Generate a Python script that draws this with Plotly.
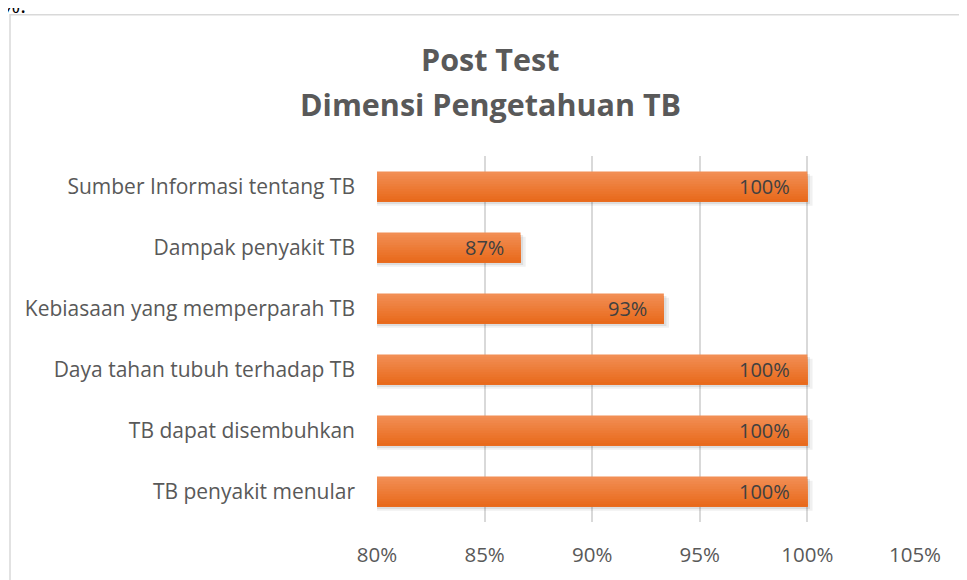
import plotly.graph_objects as go

categories = [
    "Sumber Informasi tentang TB",
    "Dampak penyakit TB",
    "Kebiasaan yang memperparah TB",
    "Daya tahan tubuh terhadap TB",
    "TB dapat disembuhkan",
    "TB penyakit menular",
]
values = [1.00, 0.8667, 0.9333, 1.00, 1.00, 1.00]
labels = ["100%", "87%", "93%", "100%", "100%", "100%"]
tick_vals = [0.80, 0.85, 0.90, 0.95, 1.00, 1.05]
tick_text = ["80%", "85%", "90%", "95%", "100%", "105%"]
title_lines = ["Post Test", "Dimensi Pengetahuan TB"]

# the page body adds an 8px margin, so the figure is 8px smaller than the window
W, H = 959, 572
L, R, T, B = 369, 52, 148, 51
pw, ph = W - L - R, H - T - B

BASE = 0.80
FONT = "Open Sans"
BAR_W = 0.49
TOP_RGB = (242, 142, 84)
BOT_RGB = (232, 106, 28)
N_SLICES = 12

fig = go.Figure()
# soft shadow under each bar
for k, a in enumerate([0.06, 0.08]):
    fig.add_trace(go.Bar(
        y=categories, x=[v - BASE + 0.0012 * (2 - k) for v in values], base=BASE,
        orientation="h", width=BAR_W, offset=-BAR_W / 2 + 0.03 * (2 - k) + 0.01,
        marker=dict(color="rgba(0,0,0,%.2f)" % a, line=dict(width=0)),
        hoverinfo="skip",
    ))
# bar body: overlapping layers, each reaching the bar bottom, for a vertical gradient
sw = BAR_W / N_SLICES
for i in range(N_SLICES):
    t = i / (N_SLICES - 1)
    rgb = tuple(round(TOP_RGB[c] + (BOT_RGB[c] - TOP_RGB[c]) * t) for c in range(3))
    fig.add_trace(go.Bar(
        y=categories, x=[v - BASE for v in values], base=BASE,
        orientation="h", width=BAR_W - i * sw, offset=-BAR_W / 2 + i * sw,
        marker=dict(color="rgb(%d,%d,%d)" % rgb, line=dict(width=0)),
        hoverinfo="skip",
    ))

for cat, v, lab in zip(categories, values, labels):
    fig.add_annotation(
        x=v, y=cat, xref="x", yref="y", text=lab, showarrow=False,
        xanchor="right", yanchor="middle", xshift=-15,
        font=dict(family=FONT, size=20, color="#404040"),
    )

title_y = [49, 95]
for line, yy in zip(title_lines, title_y):
    fig.add_annotation(
        text="<b>%s</b>" % line, xref="paper", yref="paper",
        x=(482 - L) / pw, y=1 + (T - yy) / ph,
        xanchor="center", yanchor="middle", showarrow=False,
        font=dict(family=FONT, size=30.5, color="#595959"),
    )

fig.update_layout(
    width=W, height=H,
    margin=dict(l=L, r=R, t=T, b=B),
    paper_bgcolor="white", plot_bgcolor="white",
    showlegend=False, barmode="overlay",
    xaxis=dict(
        range=[0.80, 1.05], tickvals=tick_vals, ticktext=tick_text,
        showgrid=True, gridcolor="#D9D9D9", gridwidth=1.5,
        zeroline=False, showline=False, ticks="",
        tickfont=dict(family=FONT, size=20.5, color="#595959"),
        ticklabelstandoff=18,
    ),
    yaxis=dict(
        categoryorder="array", categoryarray=categories, autorange="reversed",
        showgrid=False, zeroline=False, showline=False, ticks="",
        tickfont=dict(family=FONT, size=21, color="#595959"),
        ticklabelstandoff=21,
    ),
)

# chart frame (light gray, runs off the right and bottom edges)
fig.add_shape(
    type="rect", xref="paper", yref="paper",
    x0=(2 - L) / pw, x1=(W + 20 - L) / pw,
    y0=-(B + 20) / ph, y1=1 + (T - 4) / ph,
    line=dict(color="#D9D9D9", width=1.5), fillcolor="rgba(0,0,0,0)", layer="below",
)

# text of the page above the chart, cut off at the top edge
fig.add_annotation(
    text="%.", xref="paper", yref="paper",
    x=(-8 - L) / pw, y=1 + (T - 10) / ph, xanchor="left", yanchor="bottom",
    showarrow=False, font=dict(family=FONT, size=22, color="#000000"),
)

fig.write_html("out.html")
